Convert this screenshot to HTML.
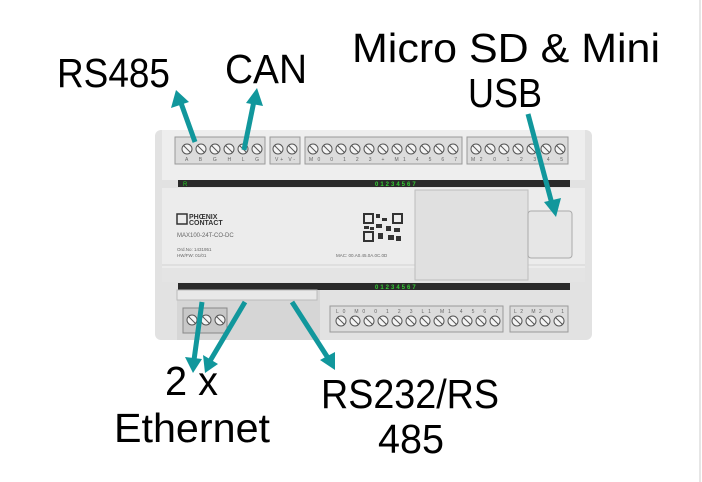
<!DOCTYPE html>
<html><head><meta charset="utf-8"><style>
html,body{margin:0;padding:0;background:#fff;}
svg{display:block}
.lbl{font-family:"Liberation Sans",sans-serif;font-size:41px;fill:#000;}
.s{font-family:"Liberation Sans",sans-serif;fill:#666;}
</style></head><body>
<svg width="702" height="482" viewBox="0 0 702 482" xmlns="http://www.w3.org/2000/svg">
<defs>
<g id="screw"><circle r="5" fill="#f4f4f4" stroke="#555" stroke-width="1"/><line x1="-3.5" y1="-3.5" x2="3.5" y2="3.5" stroke="#555" stroke-width="1"/></g>
</defs>
<line x1="700" y1="0" x2="700" y2="482" stroke="#e6e6e6" stroke-width="2"/>
<rect x="155" y="130" width="437" height="210" rx="6" fill="#e2e2e2"/>
<rect x="162" y="130" width="423" height="50" fill="#eeeeee"/>
<rect x="162" y="188" width="423" height="80" fill="#ececec"/>
<rect x="162" y="268" width="423" height="14" fill="#e4e4e4"/>
<line x1="162" y1="265" x2="585" y2="265" stroke="#d2d2d2"/>
<rect x="175" y="137" width="90" height="27" fill="#dcdcdc" stroke="#999"/>
<rect x="270" y="137" width="30" height="27" fill="#dcdcdc" stroke="#999"/>
<rect x="305" y="137" width="157" height="27" fill="#dcdcdc" stroke="#999"/>
<rect x="467" y="137" width="101" height="27" fill="#dcdcdc" stroke="#999"/>
<g>
<use href="#screw" x="187" y="149"/><use href="#screw" x="201" y="149"/><use href="#screw" x="215" y="149"/><use href="#screw" x="229" y="149"/><use href="#screw" x="243" y="149"/><use href="#screw" x="257" y="149"/>
<use href="#screw" x="278" y="149"/><use href="#screw" x="292" y="149"/>
<use href="#screw" x="313" y="149"/><use href="#screw" x="327" y="149"/><use href="#screw" x="341" y="149"/><use href="#screw" x="355" y="149"/><use href="#screw" x="369" y="149"/><use href="#screw" x="383" y="149"/><use href="#screw" x="397" y="149"/><use href="#screw" x="411" y="149"/><use href="#screw" x="425" y="149"/><use href="#screw" x="439" y="149"/><use href="#screw" x="453" y="149"/>
<use href="#screw" x="476" y="149"/><use href="#screw" x="490" y="149"/><use href="#screw" x="504" y="149"/><use href="#screw" x="518" y="149"/><use href="#screw" x="532" y="149"/><use href="#screw" x="546" y="149"/><use href="#screw" x="560" y="149"/>
</g>
<text class="s" font-size="5" x="185" y="161" textLength="74">A B G H L G</text>
<text class="s" font-size="5" x="275" y="161" textLength="20">V+ V-</text>
<text class="s" font-size="5" x="309" y="161" textLength="148">M0 0 1 2 3 + M1 4 5 6 7</text>
<text class="s" font-size="5" x="471" y="161" textLength="92">M2 0 1 2 3 4 5</text>
<rect x="178" y="180" width="392" height="7" fill="#2a2a2a"/>
<text x="183" y="186" font-size="6" font-family="Liberation Sans" fill="#2c2">R</text>
<text x="375" y="186" font-size="6" font-family="Liberation Sans" font-weight="bold" fill="#3c3" letter-spacing="2">01234567</text>
<rect x="178" y="283" width="392" height="7" fill="#2a2a2a"/>
<text x="375" y="289" font-size="6" font-family="Liberation Sans" font-weight="bold" fill="#3c3" letter-spacing="2">01234567</text>
<rect x="415" y="190" width="113" height="90" fill="#e0e0e0" stroke="#bdbdbd"/>
<rect x="528" y="211" width="44" height="47" rx="3" fill="#e6e6e6" stroke="#aaa"/>
<rect x="177" y="214" width="10" height="10" fill="none" stroke="#333" stroke-width="1.5"/>
<text x="189" y="219" font-size="7" font-weight="bold" font-family="Liberation Sans" fill="#333">PHŒNIX</text>
<text x="189" y="225" font-size="7" font-weight="bold" font-family="Liberation Sans" fill="#333">CONTACT</text>
<text class="s" x="177" y="237" font-size="6">MAX100-24T-CO-DC</text>
<text class="s" x="177" y="251" font-size="4.5">Ord.No: 1431951</text>
<text class="s" x="177" y="257" font-size="4.5">HW/FW: 01/01</text>
<text class="s" x="336" y="257" font-size="4.5">MAC:   00.A0.45.0A.0C.0D</text>
<g fill="#333">
<rect x="364" y="214" width="9" height="9" fill="none" stroke="#333" stroke-width="2"/>
<rect x="393" y="214" width="9" height="9" fill="none" stroke="#333" stroke-width="2"/>
<rect x="364" y="232" width="9" height="9" fill="none" stroke="#333" stroke-width="2"/>
<rect x="376" y="214" width="4" height="4"/><rect x="382" y="218" width="5" height="3"/><rect x="376" y="224" width="6" height="4"/><rect x="386" y="226" width="5" height="5"/><rect x="364" y="226" width="5" height="3"/><rect x="394" y="228" width="6" height="4"/><rect x="378" y="233" width="5" height="6"/><rect x="388" y="235" width="6" height="5"/><rect x="396" y="236" width="5" height="5"/><rect x="370" y="227" width="4" height="3"/>
</g>
<rect x="177" y="290" width="143" height="50" fill="#d6d6d6"/>
<rect x="177" y="290" width="140" height="10" fill="#e8e8e8" stroke="#bbb"/>
<rect x="183" y="308" width="44" height="25" fill="#c8c8c8" stroke="#888"/>
<use href="#screw" x="192" y="320"/><use href="#screw" x="206" y="320"/><use href="#screw" x="220" y="320"/>
<rect x="330" y="306" width="173" height="26" fill="#dcdcdc" stroke="#999"/>
<rect x="510" y="306" width="58" height="26" fill="#dcdcdc" stroke="#999"/>
<g>
<use href="#screw" x="341" y="321"/><use href="#screw" x="355" y="321"/><use href="#screw" x="369" y="321"/><use href="#screw" x="383" y="321"/><use href="#screw" x="397" y="321"/><use href="#screw" x="411" y="321"/><use href="#screw" x="425" y="321"/><use href="#screw" x="439" y="321"/><use href="#screw" x="453" y="321"/><use href="#screw" x="467" y="321"/><use href="#screw" x="481" y="321"/><use href="#screw" x="495" y="321"/>
<use href="#screw" x="517" y="321"/><use href="#screw" x="531" y="321"/><use href="#screw" x="545" y="321"/><use href="#screw" x="559" y="321"/>
</g>
<text class="s" font-size="5" x="336" y="313" textLength="162">L0 M0 0 1 2 3 L1 M1 4 5 6 7</text>
<text class="s" font-size="5" x="514" y="313" textLength="50">L2 M2 0 1</text>
<g stroke="#11979c" stroke-width="5" fill="#11979c">
<line x1="195" y1="142" x2="181" y2="103"/>
<line x1="244" y1="150" x2="254" y2="101"/>
<line x1="528" y1="114" x2="552" y2="204"/>
<line x1="202" y1="302" x2="194" y2="360"/>
<line x1="245" y1="302" x2="210" y2="361"/>
<line x1="292" y1="302" x2="328" y2="358"/>
</g>
<g fill="#11979c">
<polygon points="176,90 171,108 189,102"/>
<polygon points="257,88 246,103 263,106"/>
<polygon points="556,217 544,202 561,198"/>
<polygon points="193,373 185,357 202,359"/>
<polygon points="205,373 203,355 218,364"/>
<polygon points="335,370 320,360 335,352"/>
</g>
<text class="lbl" x="57" y="87" textLength="113" lengthAdjust="spacingAndGlyphs">RS485</text>
<text class="lbl" x="225" y="83" textLength="82" lengthAdjust="spacingAndGlyphs">CAN</text>
<text class="lbl" x="352" y="62" textLength="308" lengthAdjust="spacingAndGlyphs">Micro SD &amp; Mini</text>
<text class="lbl" x="468" y="107" textLength="74" lengthAdjust="spacingAndGlyphs">USB</text>
<text class="lbl" x="165" y="395" textLength="53" lengthAdjust="spacingAndGlyphs">2 x</text>
<text class="lbl" x="114" y="442" textLength="156" lengthAdjust="spacingAndGlyphs">Ethernet</text>
<text class="lbl" x="321" y="408" textLength="178" lengthAdjust="spacingAndGlyphs">RS232/RS</text>
<text class="lbl" x="378" y="453" textLength="66" lengthAdjust="spacingAndGlyphs">485</text>
</svg>
</body></html>
